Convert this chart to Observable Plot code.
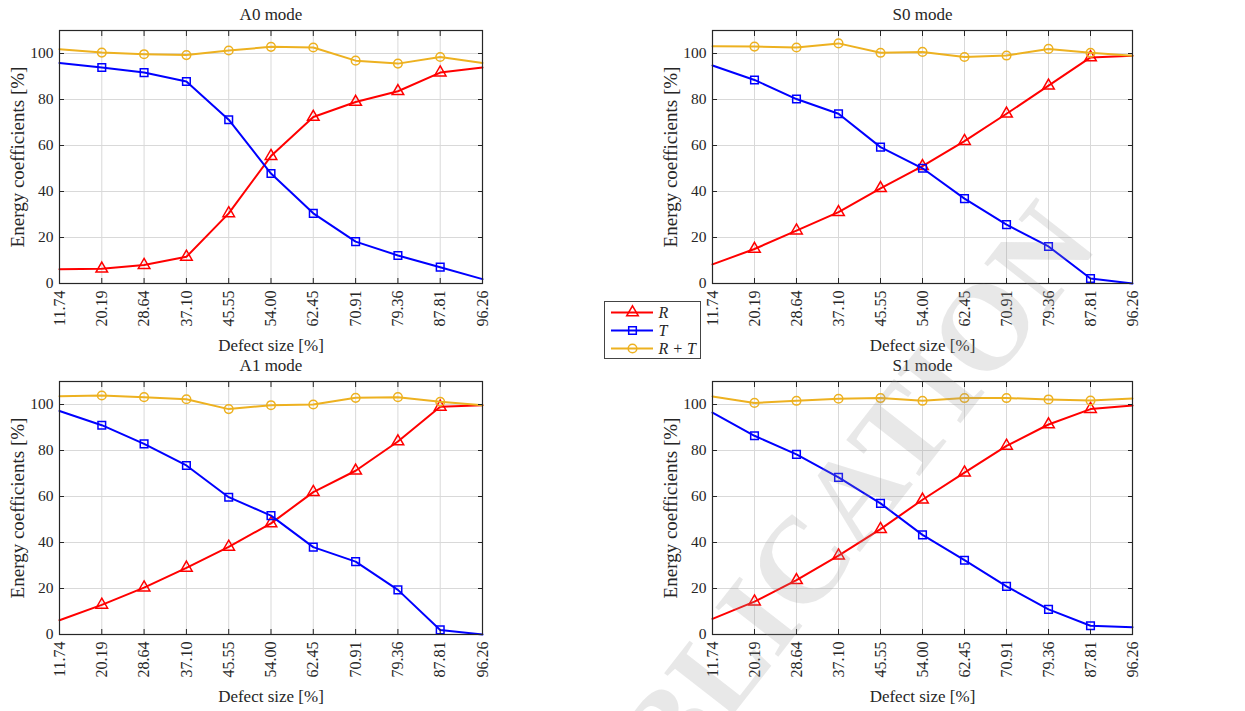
<!DOCTYPE html>
<html><head><meta charset="utf-8">
<script src="https://cdn.jsdelivr.net/npm/d3@7"></script>
<script src="https://cdn.jsdelivr.net/npm/@observablehq/plot@0.6"></script>
<style>
html,body{margin:0;padding:0;background:#fff;}
body{width:1245px;height:711px;position:relative;overflow:hidden;font-family:"Liberation Serif","DejaVu Serif",serif;}
.panel{position:absolute;}
.panel svg{overflow:visible;}
svg text{font-family:"Liberation Serif","DejaVu Serif",serif !important;}
#legend{position:absolute;left:604px;top:301px;border:1px solid #444;background:#fff;line-height:0;}
#wm{position:absolute;left:0;top:0;pointer-events:none;}
</style></head><body>
<div id="root"></div>
<script>
// ---- data ----
const defectSize = [11.74, 20.19, 28.64, 37.10, 45.55, 54.00, 62.45, 70.91, 79.36, 87.81, 96.26];
const yTicks = [0, 20, 40, 60, 80, 100];
const seriesNames = ["R", "T", "R + T"];
const seriesColors = ["#ff0000", "#0000ff", "#edb120"];
const seriesSymbols = ["triangle", "square", "circle"];

const a0R  = [6.2, 6.4, 8.0, 11.6, 30.5, 55.4, 72.4, 78.9, 83.6, 91.7, 93.9];
const a0T  = [95.9, 93.9, 91.7, 87.8, 71.2, 47.8, 30.5, 18.2, 12.2, 7.1, 1.9];
const a0RT = [101.9, 100.4, 99.7, 99.3, 101.3, 102.9, 102.6, 96.9, 95.6, 98.5, 95.9];

const s0R  = [8.3, 15.0, 23.0, 31.0, 41.4, 51.0, 61.9, 73.8, 86.0, 98.3, 99.0];
const s0T  = [94.8, 88.5, 80.2, 73.8, 59.3, 50.1, 36.9, 25.6, 16.1, 2.2, 0.0];
const s0RT = [103.2, 103.0, 102.6, 104.4, 100.3, 100.7, 98.5, 99.1, 102.0, 100.3, 99.0];

const a1R  = [6.2, 12.9, 20.4, 29.0, 38.1, 48.3, 61.9, 71.2, 83.9, 99.0, 99.7];
const a1T  = [97.2, 91.0, 82.9, 73.5, 59.7, 51.7, 38.0, 31.7, 19.4, 2.0, 0.0];
const a1RT = [103.6, 103.9, 103.2, 102.3, 98.0, 99.7, 100.0, 102.9, 103.2, 101.2, 99.7];

const s1R  = [6.8, 14.3, 23.6, 34.3, 45.8, 58.6, 70.4, 82.0, 91.3, 98.0, 99.6];
const s1T  = [96.5, 86.4, 78.3, 68.3, 57.0, 43.3, 32.3, 20.9, 10.9, 3.8, 3.2];
const s1RT = [103.5, 100.7, 101.6, 102.5, 102.8, 101.6, 102.8, 102.8, 102.2, 101.7, 102.6];

const xLabel = "Defect size [%]";
const yLabel = "Energy coefficients [%]";
const watermark = "PUBLICATION";

// ---- drawing ----
const INK = "#262626";
const FONT = "Liberation Serif, DejaVu Serif, serif";
const root = document.getElementById("root");

function panel(title, R, T, RT, box) {
  const series = [R, T, RT];
  const marks = [
    Plot.gridX(defectSize, {stroke: "#d9d9d9", strokeOpacity: 1}),
    Plot.gridY(yTicks, {stroke: "#d9d9d9", strokeOpacity: 1})
  ];
  series.forEach((vals, k) => {
    const rows = vals.map((v, i) => ({x: defectSize[i], y: v, s: seriesNames[k], i}));
    marks.push(Plot.line(rows, {x: "x", y: "y", stroke: "s", strokeWidth: 2}));
    marks.push(Plot.dot(rows.filter(d => d.i > 0 && d.i < vals.length - 1),
      {x: "x", y: "y", stroke: "s", symbol: "s", r: 4.3, strokeWidth: 1.5, fill: "none"}));
  });
  marks.push(
    Plot.frame({stroke: INK, strokeWidth: 1.2}),
    Plot.axisX(defectSize, {anchor: "bottom", tickSize: 5, dy: -5, tickFormat: () => "", label: null, stroke: INK}),
    Plot.axisX(defectSize, {anchor: "top", tickSize: 5, dy: 5, tickFormat: () => "", label: null, stroke: INK}),
    Plot.axisY(yTicks, {anchor: "left", tickSize: 5, dx: 5, tickFormat: () => "", label: null, stroke: INK}),
    Plot.axisY(yTicks, {anchor: "right", tickSize: 5, dx: -5, tickFormat: () => "", label: null, stroke: INK}),
    Plot.axisX(defectSize, {anchor: "bottom", tickSize: 0, tickPadding: 7, tickRotate: -90,
      tickFormat: d => d.toFixed(2), label: null, fill: INK, fontSize: 16}),
    Plot.axisY(yTicks, {anchor: "left", tickSize: 0, tickPadding: 6, label: null, fill: INK, fontSize: 15.5}),
    Plot.text([title], {frameAnchor: "top", dy: -16, lineAnchor: "middle", textAnchor: "middle", fontSize: 17, fill: INK}),
    Plot.text([xLabel], {frameAnchor: "bottom", dy: 62, lineAnchor: "middle", textAnchor: "middle", fontSize: 17, fill: INK}),
    Plot.text([yLabel], {frameAnchor: "left", dx: -42, rotate: -90, lineAnchor: "middle", textAnchor: "middle", fontSize: 19, fill: INK})
  );
  const svg = Plot.plot({
    width: box.width, height: 352,
    marginLeft: box.ml, marginRight: box.mr, marginTop: 30, marginBottom: 69,
    style: {fontFamily: FONT, fontSize: "16px", color: INK, background: "transparent", overflow: "visible"},
    x: {domain: [defectSize[0], defectSize[defectSize.length - 1]]},
    y: {domain: [0, 110]},
    color: {domain: seriesNames, range: seriesColors},
    symbol: {domain: seriesNames, range: seriesSymbols},
    marks
  });
  const div = document.createElement("div");
  div.className = "panel";
  div.style.left = box.left + "px";
  div.style.top = box.top + "px";
  div.appendChild(svg);
  root.appendChild(div);
}

panel("A0 mode", a0R, a0T, a0RT, {left: 0, top: 0, width: 620, ml: 59, mr: 138});
panel("S0 mode", s0R, s0T, s0RT, {left: 620, top: 0, width: 625, ml: 92, mr: 113});
panel("A1 mode", a1R, a1T, a1RT, {left: 0, top: 351, width: 620, ml: 59, mr: 138});
panel("S1 mode", s1R, s1T, s1RT, {left: 620, top: 351, width: 625, ml: 92, mr: 113});

// legend
const legend = Plot.plot({
  width: 95, height: 56,
  marginLeft: 6, marginRight: 47, marginTop: 10, marginBottom: 10,
  style: {fontFamily: FONT, fontSize: "15px", color: INK, background: "#fff"},
  x: {axis: null},
  y: {type: "point", domain: seriesNames, padding: 0, axis: null},
  color: {domain: seriesNames, range: seriesColors},
  symbol: {domain: seriesNames, range: seriesSymbols},
  marks: [
    Plot.ruleY(seriesNames, {y: d => d, stroke: d => d, strokeWidth: 2}),
    Plot.dot(seriesNames, {y: d => d, stroke: d => d, symbol: d => d, r: 4.3, strokeWidth: 1.5, fill: "none"}),
    Plot.text(seriesNames, {y: d => d, text: d => d, frameAnchor: "right", textAnchor: "start", dx: 5,
      fontStyle: "italic", fill: INK, fontSize: 16})
  ]
});
const lg = document.createElement("div");
lg.id = "legend";
lg.appendChild(legend);
root.appendChild(lg);

// watermark overlay
const ns = "http://www.w3.org/2000/svg";
const wm = document.createElementNS(ns, "svg");
wm.setAttribute("id", "wm");
wm.setAttribute("width", 1245);
wm.setAttribute("height", 711);
const t = document.createElementNS(ns, "text");
t.setAttribute("transform", "translate(1100,245) rotate(-52)");
t.setAttribute("text-anchor", "end");
t.setAttribute("font-weight", "bold");
t.setAttribute("font-size", 122);
t.setAttribute("fill", "rgba(150,150,150,0.22)");
t.textContent = watermark;
wm.appendChild(t);
document.body.appendChild(wm);
</script>
</body></html>
